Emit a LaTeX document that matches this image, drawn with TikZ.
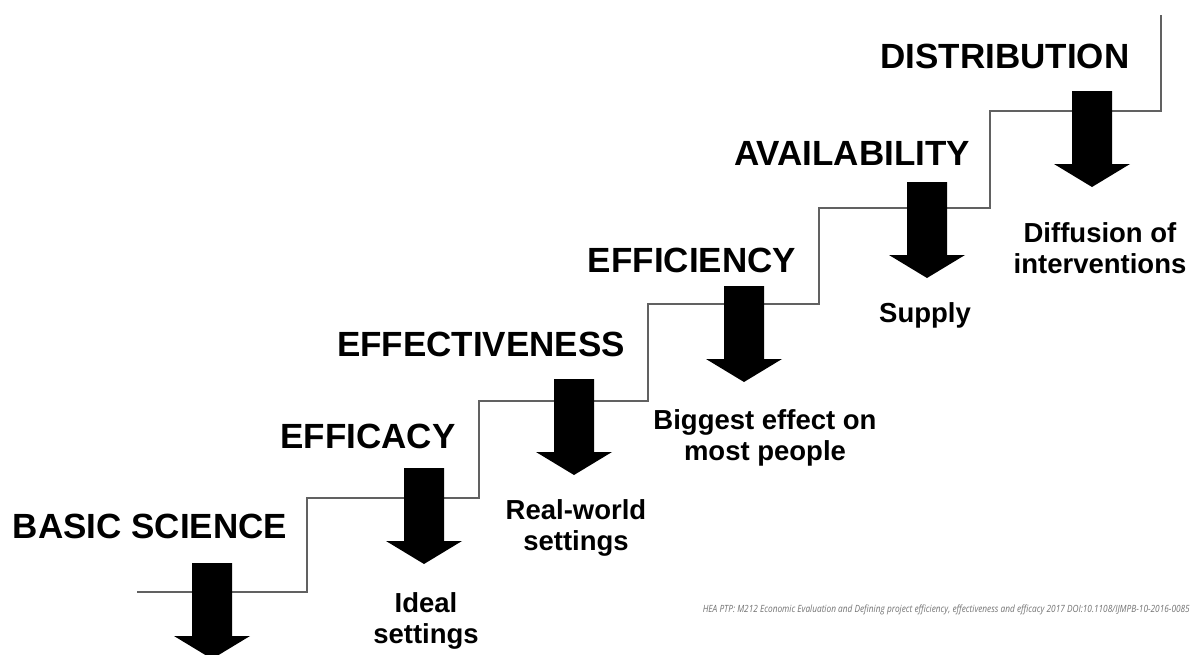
\documentclass[tikz,border=0pt]{standalone}
\usepackage{graphicx}
\usepackage{fontspec}
\setmainfont{Liberation Sans}
\newfontfamily\notefont{Open Sans}
\newcommand\stagearrow[3]{%
  \fill[black] (#2-20,#3) coordinate (#1) -- (#2+20,#3) -- (#2+20,#3+73) -- (#2+38,#3+73)
    -- (#2,#3+96) -- (#2-38,#3+73) -- (#2-20,#3+73) -- cycle;}
\begin{document}
\begin{tikzpicture}[x=1pt,y=-1pt,
  stage/.style={font=\bfseries\fontsize{35}{42}\selectfont, inner sep=0pt, anchor=base},
  outcome/.style={font=\bfseries\fontsize{27.5}{31}\selectfont, inner sep=0pt, anchor=base, align=center},
  stair/.style={draw=black!62, line width=1.6pt},
  note/.style={inner sep=0pt, anchor=base east, text=black!55}]
\clip (0,0) rectangle (1192,654);
\fill[white] (0,0) rectangle (1192,654);

% staircase
\coordinate (p0) at (137,592);
\coordinate (p1) at (307,498);
\coordinate (p2) at (479,401);
\coordinate (p3) at (648,304);
\coordinate (p4) at (819,208);
\coordinate (p5) at (990,111);
\coordinate (p6) at (1161,15);
\draw[stair] (p0) -| (p1) -| (p2) -| (p3) -| (p4) -| (p5) -| (p6);

% arrows
\stagearrow{a0}{212}{563}
\stagearrow{a1}{424}{468}
\stagearrow{a2}{574}{379}
\stagearrow{a3}{744}{286}
\stagearrow{a4}{927}{182}
\stagearrow{a5}{1092}{91}

% stage labels
\node[stage] (basic) at (150,538) {BASIC SCIENCE};
\node[stage] (efficacy) at (368,448) {EFFICACY};
\node[stage] (effectiveness) at (481,356) {EFFECTIVENESS};
\node[stage] (efficiency) at (692,272) {EFFICIENCY};
\node[stage] (availability) at (852,165) {AVAILABILITY};
\node[stage] (distribution) at (1005,68) {DISTRIBUTION};

% outcome labels (anchor = baseline of last line)
\node[outcome] (ideal) at (426,643) {Ideal\\settings};
\node[outcome] (real) at (576,550) {Real-world\\settings};
\node[outcome] (biggest) at (765,460) {Biggest effect on\\most people};
\node[outcome] (supply) at (925,322) {Supply};
\node[outcome] (diffusion) at (1100,273) {Diffusion of\\interventions};

% source note
\node[note] (source) at (1190,612) {\resizebox{487pt}{7.6pt}{\notefont\itshape HEA PTP: M212 Economic Evaluation and Defining project efficiency, effectiveness and efficacy 2017 DOI:10.1108/IJMPB-10-2016-0085}};
\end{tikzpicture}
\end{document}
